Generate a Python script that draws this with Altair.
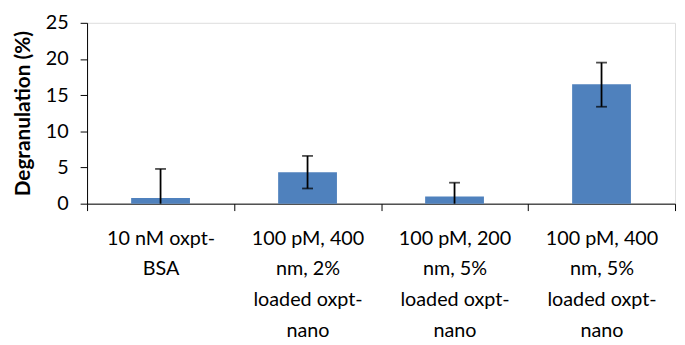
import altair as alt
import pandas as pd

categories = [
    "10 nM oxpt-\nBSA",
    "100 pM, 400\nnm, 2%\nloaded oxpt-\nnano",
    "100 pM, 200\nnm, 5%\nloaded oxpt-\nnano",
    "100 pM, 400\nnm, 5%\nloaded oxpt-\nnano",
]
values = [0.8, 4.35, 1.0, 16.5]
err_low = [0.0, 2.1, 0.0, 13.4]
err_high = [4.8, 6.6, 2.9, 19.5]
y_ticks = [0, 5, 10, 15, 20, 25]

df = pd.DataFrame({"cat": categories, "val": values, "lo": err_low, "hi": err_high})

FONT = "Lato"

x_axis = alt.Axis(
    title=None,
    labelAngle=0,
    labelExpr="split(datum.label, '\\n')",
    labelFontSize=20,
    labelLineHeight=31,
    labelPadding=18,
    labelBaseline="top",
    labelColor="#000000",
    labelOverlap=False,
    tickBand="extent",
    tickSize=7,
    tickColor="#000000",
    domainColor="#000000",
    labelFont=FONT,
)
x = alt.X("cat:N", sort=categories, scale=alt.Scale(paddingInner=0, paddingOuter=0), axis=x_axis)

y_axis = alt.Axis(
    title="Degranulation (%)",
    titleFont=FONT,
    titleFontSize=21,
    titleFontWeight="bold",
    titleColor="#000000",
    titlePadding=12,
    values=y_ticks,
    grid=False,
    labelOverlap=False,
    labelFont=FONT,
    labelFontSize=20,
    labelColor="#000000",
    tickSize=7,
    tickColor="#000000",
    domainColor="#000000",
    labelPadding=12,
)
y_scale = alt.Scale(domain=[0, 25])

bars = alt.Chart(df).mark_bar(color="#4F81BD", width=alt.RelativeBandSize(0.4)).encode(
    x=x, y=alt.Y("val:Q", scale=y_scale, axis=y_axis)
)

rules = alt.Chart(df).mark_rule(color="#000000", strokeWidth=1.8).encode(
    x=x, y=alt.Y("lo:Q", scale=y_scale, axis=y_axis), y2="hi:Q"
)
cap_hi = alt.Chart(df).mark_tick(color="#000000", size=11, thickness=1.8, orient="horizontal").encode(
    x=x, y=alt.Y("hi:Q", scale=y_scale, axis=y_axis)
)
cap_lo = alt.Chart(df[df["lo"] > 0]).mark_tick(color="#000000", size=11, thickness=1.8, orient="horizontal").encode(
    x=x, y=alt.Y("lo:Q", scale=y_scale, axis=y_axis)
)

chart = (
    alt.layer(bars, rules, cap_hi, cap_lo)
    .properties(
        width=595,
        height=183,
        autosize=alt.AutoSizeParams(type="none"),
        padding={"left": 80, "top": 13, "right": 2, "bottom": 139},
    )
    .configure_view(strokeWidth=0, stroke="transparent")
    .configure(background="#ffffff")
)

chart.save("out.html", embed_options={"renderer": "svg", "actions": False})
